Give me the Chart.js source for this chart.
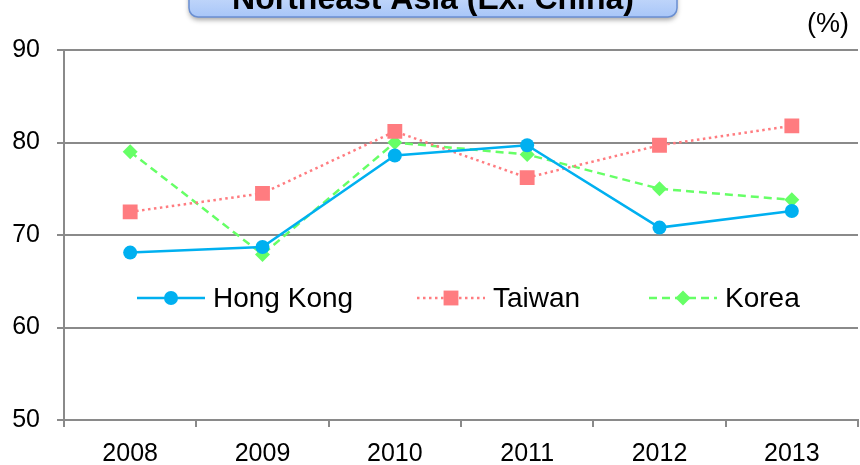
<!DOCTYPE html>
<html>
<head>
<meta charset="utf-8">
<script src="https://cdn.jsdelivr.net/npm/chart.js@4"></script>
<style>
  html, body { margin: 0; padding: 0; background: #fff; }
  #wrap { width: 860px; height: 465px; position: relative; }
</style>
</head>
<body>
<div id="wrap"><canvas id="chart" width="860" height="465"></canvas></div>
<script>
const years = ['2008', '2009', '2010', '2011', '2012', '2013'];
const hongKong = [68.1, 68.7, 78.6, 79.7, 70.8, 72.6];
const taiwan = [72.5, 74.5, 81.2, 76.2, 79.7, 81.8];
const korea = [79.0, 67.9, 80.0, 78.7, 75.0, 73.8];
const titleText = 'Northeast Asia (Ex. China)';
const unitText = '(%)';

const FONT = '"Liberation Sans", Arial, sans-serif';
const GRID = '#8a8a8a';

// title box cut off at the top + unit label
const titlePlugin = {
  id: 'titleBox',
  afterDraw(chart) {
    const ctx = chart.ctx;
    ctx.save();
    const x = 189, y = -30, w = 488, h = 47, r = 9;
    ctx.shadowColor = 'rgba(0,0,0,0.35)';
    ctx.shadowBlur = 5;
    ctx.shadowOffsetY = 3;
    const g = ctx.createLinearGradient(0, y, 0, y + h);
    g.addColorStop(0, '#e3ecfc');
    g.addColorStop(1, '#a8c6f8');
    ctx.fillStyle = g;
    ctx.beginPath();
    ctx.roundRect(x, y, w, h, r);
    ctx.fill();
    ctx.shadowColor = 'transparent';
    ctx.strokeStyle = '#6a8fd2';
    ctx.lineWidth = 1.5;
    ctx.stroke();

    ctx.fillStyle = '#000';
    ctx.font = 'bold 32px ' + FONT;
    ctx.textAlign = 'center';
    ctx.textBaseline = 'alphabetic';
    ctx.fillText(titleText, 433, 9);

    ctx.font = '27px ' + FONT;
    ctx.textAlign = 'right';
    ctx.textBaseline = 'middle';
    ctx.fillText(unitText, 849, 25);
    ctx.restore();
  }
};

// legend drawn inside the plot, with line + marker samples
const legendPlugin = {
  id: 'inLegend',
  afterDatasetsDraw(chart) {
    const ctx = chart.ctx;
    const starts = [137, 417, 649];
    const y = 298;
    ctx.save();
    chart.data.datasets.forEach((ds, i) => {
      const x0 = starts[i];
      ctx.strokeStyle = ds.borderColor;
      ctx.lineWidth = ds.borderWidth;
      ctx.setLineDash(ds.borderDash || []);
      ctx.beginPath();
      ctx.moveTo(x0, y);
      ctx.lineTo(x0 + 68, y);
      ctx.stroke();
      ctx.setLineDash([]);
      ctx.fillStyle = ds.pointBackgroundColor;
      Chart.helpers.drawPoint(ctx, {
        pointStyle: ds.pointStyle,
        radius: ds.pointRadius,
        rotation: 0,
        borderWidth: 0
      }, x0 + 34, y);
      ctx.fillStyle = '#000';
      ctx.font = '28px ' + FONT;
      ctx.textAlign = 'left';
      ctx.textBaseline = 'middle';
      ctx.fillText(ds.label, x0 + 76, y + 1);
    });
    ctx.restore();
  }
};

new Chart(document.getElementById('chart'), {
  type: 'line',
  data: {
    labels: years,
    datasets: [
      {
        label: 'Hong Kong',
        data: hongKong,
        borderColor: '#00b0f0',
        backgroundColor: '#00b0f0',
        pointBackgroundColor: '#00b0f0',
        pointBorderColor: '#00b0f0',
        borderWidth: 2.5,
        pointStyle: 'circle',
        pointRadius: 7,
        pointBorderWidth: 0
      },
      {
        label: 'Taiwan',
        data: taiwan,
        borderColor: '#ff7c80',
        backgroundColor: '#ff7c80',
        pointBackgroundColor: '#ff7c80',
        pointBorderColor: '#ff7c80',
        borderWidth: 2.5,
        borderDash: [2.5, 3.5],
        pointStyle: 'rect',
        pointRadius: 10.5,
        pointBorderWidth: 0
      },
      {
        label: 'Korea',
        data: korea,
        borderColor: '#66ff66',
        backgroundColor: '#66ff66',
        pointBackgroundColor: '#66ff66',
        pointBorderColor: '#66ff66',
        borderWidth: 2.5,
        borderDash: [8, 5],
        pointStyle: 'rectRot',
        pointRadius: 7.5,
        pointBorderWidth: 0
      }
    ]
  },
  options: {
    responsive: false,
    animation: false,
    layout: { autoPadding: false, padding: { top: 50, right: 2, left: 0, bottom: 0 } },
    plugins: {
      legend: { display: false },
      tooltip: { enabled: false }
    },
    scales: {
      x: {
        offset: true,
        grid: {
          offset: true,
          drawOnChartArea: false,
          drawTicks: true,
          tickLength: 7,
          color: GRID,
          lineWidth: 2
        },
        border: { color: GRID, width: 2 },
        ticks: {
          color: '#000',
          font: { family: FONT, size: 25 },
          padding: 12,
          maxRotation: 0
        },
        afterFit(scale) {
          scale.height = 45;
          scale.paddingLeft = 0;
          scale.paddingRight = 0;
        }
      },
      y: {
        min: 50,
        max: 90,
        grid: {
          color: GRID,
          lineWidth: 2,
          tickLength: 7
        },
        border: { color: GRID, width: 2 },
        ticks: {
          stepSize: 10,
          color: '#000',
          font: { family: FONT, size: 25 },
          padding: 17
        },
        afterFit(scale) { scale.width = 64; }
      }
    }
  },
  plugins: [titlePlugin, legendPlugin]
});
</script>
</body>
</html>
